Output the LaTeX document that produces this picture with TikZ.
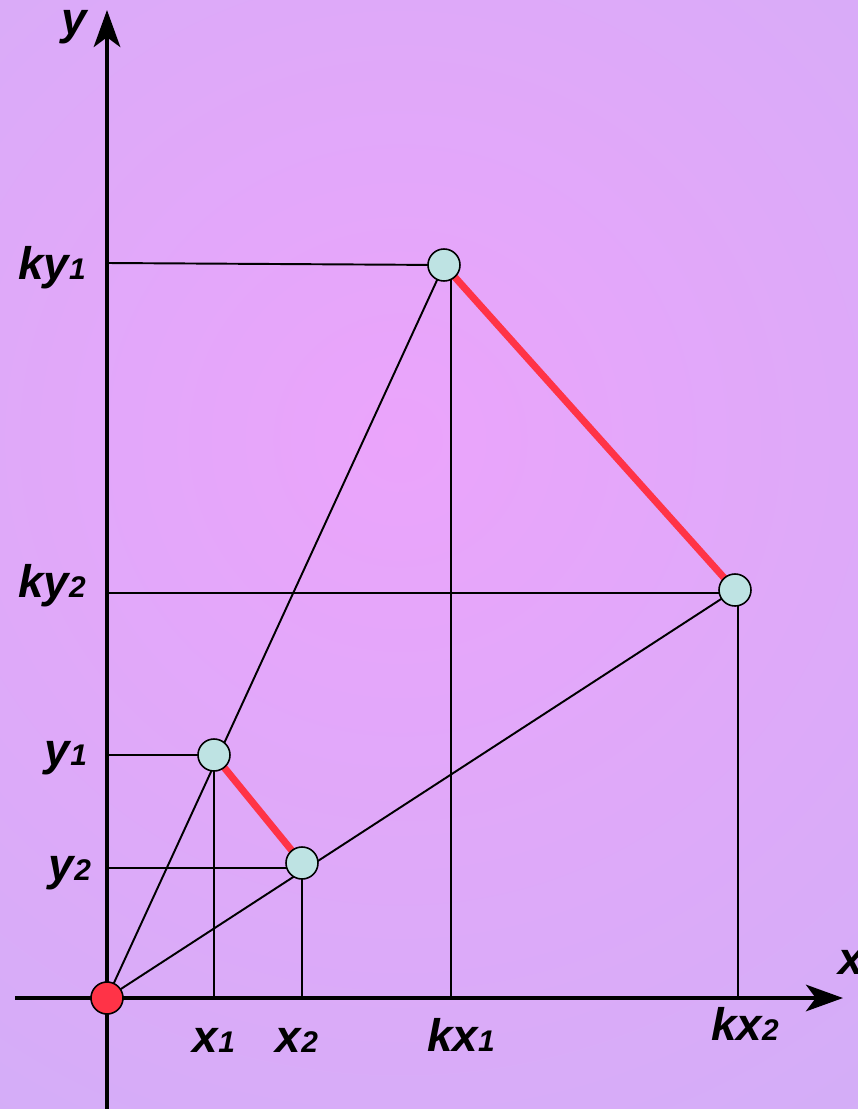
\documentclass[tikz,border=0pt]{standalone}
\usepackage{fontspec}
\setmainfont{Liberation Sans}
\usetikzlibrary{arrows.meta}
\definecolor{bgpink}{HTML}{EBA4FB}
\definecolor{bglilac}{HTML}{CBB1F6}
\definecolor{segred}{HTML}{FF3347}
\definecolor{dotfill}{HTML}{BEE3E3}
\newcommand\idx[1]{{\fontsize{17}{17}\selectfont #1}}

\begin{document}
\begin{tikzpicture}[x=0.02cm,y=-0.02cm,
    >={Stealth[length=21pt,width=15pt,inset=5.5pt]},
    proj/.style={line width=1.1pt,draw=black},
    axis/.style={->,line width=2.8pt,draw=black},
    segment/.style={line width=4pt,draw=segred},
    dot/.style={circle,draw=black,line width=0.9pt,fill=dotfill,
                minimum size=0.64cm,inner sep=0pt},
    lbl/.style={font=\fontsize{26}{28}\selectfont\bfseries\itshape}]
  \useasboundingbox (0,0) rectangle (858,1109);

  % Background
  \begin{scope}
    \clip (0,0) rectangle (858,1109);
    \shade[inner color=bgpink,outer color=bglilac] (400,440) circle (22cm);
  \end{scope}

  % Points and their feet on the axes
  \coordinate (O) at (107,998);
  \coordinate (A) at (214,755);
  \coordinate (B) at (302,863);
  \coordinate (KA) at (444,265);
  \coordinate (KB) at (735,590);
  \coordinate (Ax) at (214,998);
  \coordinate (Bx) at (302,998);
  \coordinate (KAx) at (451,998);
  \coordinate (KBx) at (738,998);
  \coordinate (Ay) at (107,755);
  \coordinate (By) at (107,868);
  \coordinate (KAy) at (107,263);
  \coordinate (KBy) at (107,593);

  % Projections onto the axes
  \draw[proj] (Ay) -- (A) -- (Ax);
  \draw[proj] (By) -- (By -| B) (B) -- (Bx);
  \draw[proj] (KAy) -- (KA) (KAx |- KA) -- (KAx);
  \draw[proj] (KBy) -- (KBy -| KB) (KBx |- KB) -- (KBx);

  % Rays from the centre
  \draw[proj] (O) -- (KA);
  \draw[proj] (O) -- (KB);

  % Segment and its image
  \draw[segment] (A) -- (B);
  \draw[segment] (KA) -- (KB);

  % Axes
  \coordinate (xstart) at (15,998);
  \coordinate (xend) at (843,998);
  \coordinate (ystart) at (107,1109);
  \coordinate (yend) at (107,10);
  \draw[axis] (xstart) -- (xend);
  \draw[axis] (ystart) -- (yend);

  % Dots
  \node[dot,fill=segred] (o) at (O) {};
  \foreach \p in {A,B,KA,KB}{
    \node[dot] (dot\p) at (\p) {};
  }

  % Labels
  \node[lbl] (laby) at (74,27) {y};
  \node[lbl] (labx) at (851,962) {x};
  \node[lbl] (labky1) at (52,268) {ky\idx{1}};
  \node[lbl] (labky2) at (52,586) {ky\idx{2}};
  \node[lbl] (laby1) at (66,758) {y\idx{1}};
  \node[lbl] (laby2) at (70,873) {y\idx{2}};
  \node[lbl] (labx1) at (214,1040) {x\idx{1}};
  \node[lbl] (labx2) at (297,1040) {x\idx{2}};
  \node[lbl] (labkx1) at (461,1035) {kx\idx{1}};
  \node[lbl] (labkx2) at (745,1024) {kx\idx{2}};
\end{tikzpicture}
\end{document}
